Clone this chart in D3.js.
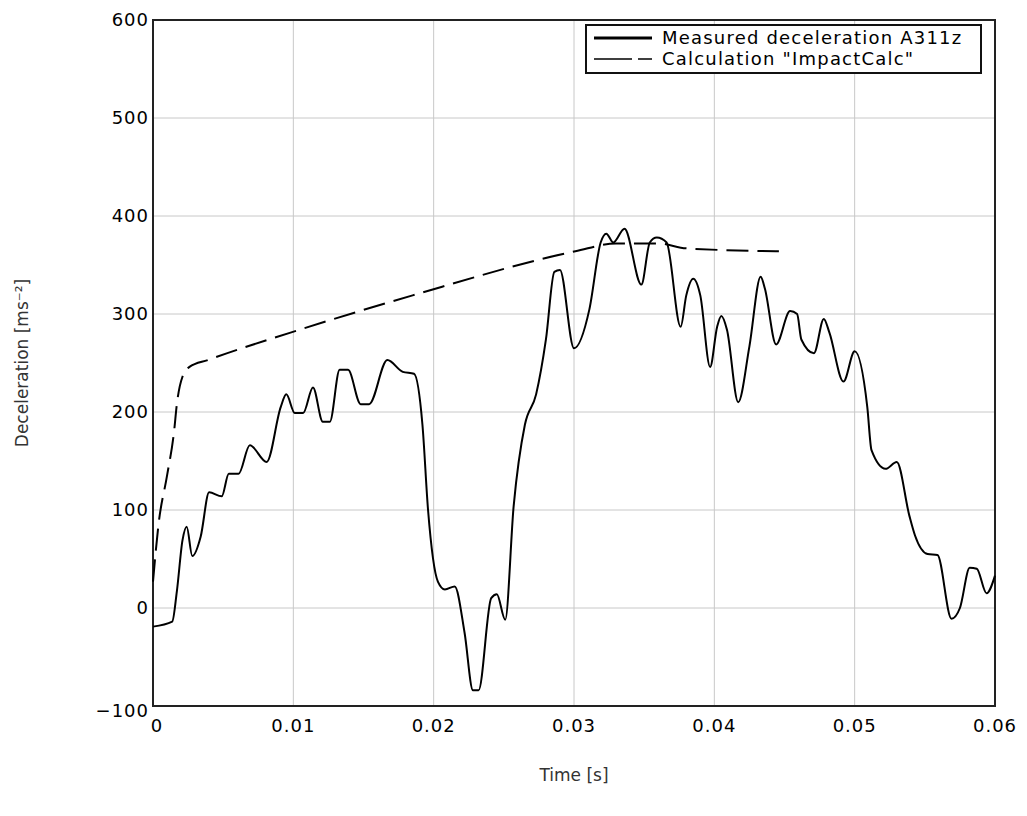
<!DOCTYPE html>
<html>
<head>
<meta charset="utf-8">
<script src="https://cdn.jsdelivr.net/npm/d3@7"></script>
<style>
body{margin:0;background:#fff;}
text{font-family:"DejaVu Sans",sans-serif;}
</style>
</head>
<body>
<script>
var measuredT = [0,.00137,.0017,.0021,.0024,.0028,.0034,.004,.0049,.0054,.0061,.0069,.0081,.0091,.0095,.0101,.0107,.0114,.0121,.0126,.0133,.0139,.0148,.0154,.0167,.0178,.0186,.0192,.0196,.0203,.0208,.0215,.0222,.0228,.0232,.0241,.0245,.0251,.0257,.0265,.0273,.0280,.0286,.0290,.0300,.0311,.0319,.0323,.0328,.0336,.0348,.0354,.0359,.0366,.0376,.0380,.0385,.0390,.0397,.0402,.0405,.0409,.0417,.0425,.0433,.0436,.0444,.0454,.0459,.0462,.0471,.0478,.0482,.0492,.0500,.0509,.0512,.0522,.0530,.0539,.0543,.0552,.0559,.0569,.0575,.0582,.0587,.0594,.0600];
var measuredA = [-19,-14,17,69,83,53,73,118,114,137,137,166,149,205,218,199,199,225,190,190,243,243,208,208,253,241,239,187,100,27,19,22,-25,-84,-84,10,14,-12,104,187,218,274,343,345,265,305,373,382,373,387,330,373,378,373,287,319,336,319,246,287,298,284,210,267,338,326,269,303,300,274,260,295,281,231,262,205,161,142,149,94,74,55,54,-11,0,41,40,15,33];
var calcT = [0,.0004,.001,.0015,.0017,.0021,.0026,.0039,.0098,.0185,.0301,.033,.036,.038,.0446];
var calcA = [27,86,135,180,208,236,246,253,281,319,364,372,372,367,364];
var xTicks = [0,0.01,0.02,0.03,0.04,0.05,0.06];
var yTicks = [-100,0,100,200,300,400,500,600];
var seriesNames = ["Measured deceleration A311z", "Calculation \"ImpactCalc\""];

var width = 1027, height = 816;
var mLeft = 153, mRight = 995, mTop = 20, mBottom = 706;
var svg = d3.select("body").append("svg").attr("width",width).attr("height",height);

var x = d3.scaleLinear().domain([0,0.06]).range([mLeft,mRight]);
var y = d3.scaleLinear().domain([-100,600]).range([mBottom,mTop]);

// grid
svg.append("g").selectAll("line").data(xTicks).enter().append("line")
  .attr("x1",d=>x(d)).attr("x2",d=>x(d)).attr("y1",mTop).attr("y2",mBottom)
  .attr("stroke","#c8c8c8").attr("stroke-width",1);
svg.append("g").selectAll("line").data(yTicks).enter().append("line")
  .attr("x1",mLeft).attr("x2",mRight).attr("y1",d=>y(d)).attr("y2",d=>y(d))
  .attr("stroke","#c8c8c8").attr("stroke-width",1);

// tick labels
svg.append("g").selectAll("text").data(xTicks).enter().append("text")
  .attr("x",d=>x(d)+(d==0?4:0)).attr("y",mBottom+26).attr("text-anchor","middle")
  .attr("font-size",18).attr("letter-spacing",1).text(d=>d);
svg.append("g").selectAll("text").data(yTicks).enter().append("text")
  .attr("x",mLeft-4).attr("y",d=>y(d)+(d==-100?11:6)).attr("text-anchor","end")
  .attr("font-size",18).attr("letter-spacing",1).text(d=>d==-100?"\u2212100":d);

// frame
svg.append("rect").attr("x",mLeft).attr("y",mTop).attr("width",mRight-mLeft).attr("height",mBottom-mTop)
  .attr("fill","none").attr("stroke","#222").attr("stroke-width",2);

var line = d3.line().x(d=>x(d[0])).y(d=>y(d[1])).curve(d3.curveMonotoneX);
svg.append("path").datum(measuredT.map((t,i)=>[t,measuredA[i]]))
  .attr("d",line).attr("fill","none").attr("stroke","#000").attr("stroke-width",2);
svg.append("path").datum(calcT.map((t,i)=>[t,calcA[i]]))
  .attr("d",line).attr("fill","none").attr("stroke","#000").attr("stroke-width",2)
  .attr("stroke-dasharray","22,9");

// legend
var lg = svg.append("g");
lg.append("rect").attr("x",586).attr("y",25).attr("width",395).attr("height",48)
  .attr("fill","#fff").attr("stroke","#111").attr("stroke-width",2);
seriesNames.forEach(function(n,i){
  lg.append("line").attr("x1",594).attr("x2",652).attr("y1",38+i*21).attr("y2",38+i*21)
    .attr("stroke","#000").attr("stroke-width",i==0?3:1.5).attr("stroke-dasharray",i==0?null:"38,6");
  lg.append("text").attr("x",662).attr("y",44+i*21).attr("font-size",18)
    .attr("letter-spacing",1.2).text(n);
});

// axis titles
svg.append("text").attr("x",(mLeft+mRight)/2).attr("y",781).attr("text-anchor","middle")
  .attr("font-size",17).attr("fill","#333").text("Time [s]");
svg.append("text").attr("transform","translate(28,"+(y(250))+") rotate(-90)")
  .attr("text-anchor","middle").attr("font-size",17).attr("fill","#333")
  .text("Deceleration [ms\u207B\u00B2]");
</script>
</body>
</html>
